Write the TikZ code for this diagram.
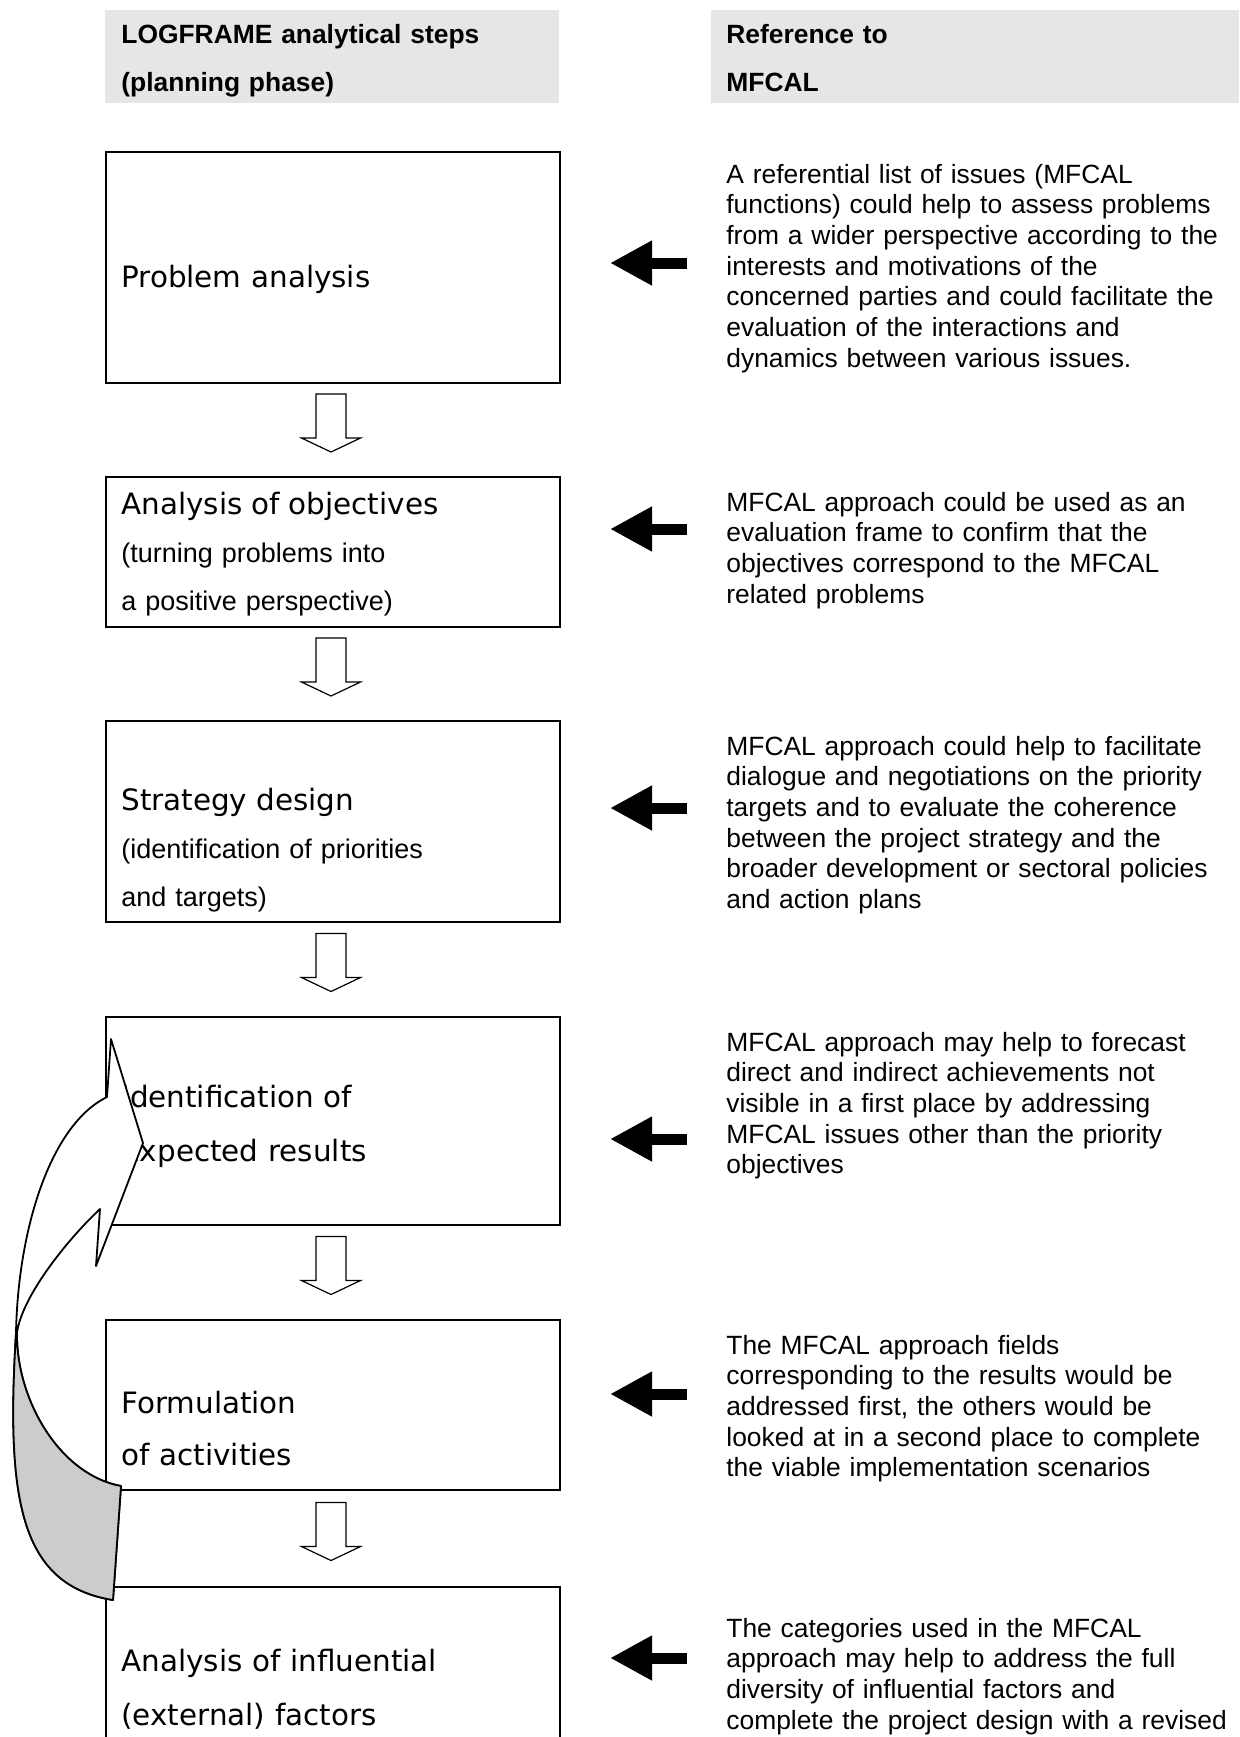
\documentclass[tikz,border=0pt]{standalone}
\usepackage{fontspec}
\newfontfamily\arialfont{Liberation Sans}
\newfontfamily\verdanafont{DejaVu Sans}
\usetikzlibrary{arrows.meta, calc}
\definecolor{headgrey}{RGB}{230,230,230}
\definecolor{loopgrey}{RGB}{204,204,204}
\newcommand{\titlefnt}[1]{\verdanafont\fontsize{14.7}{#1}\selectfont}
\newcommand{\plainfnt}[1]{\arialfont\fontsize{13.5}{#1}\selectfont}
\tikzset{
	stepbox/.style={draw, line width=1pt, minimum width=227pt, anchor=north west, inner sep=0pt, outer sep=0pt},
	headbox/.style={fill=headgrey, minimum height=46.5pt, anchor=north west, inner sep=0pt, outer sep=0pt},
	headtext/.style={anchor=base west, inner sep=0pt, text width=220pt, align=left, font=\arialfont\bfseries\fontsize{13.2}{24}\selectfont},
	steptext/.style={anchor=base west, inner sep=0pt, text width=215pt, align=left},
	notetext/.style={anchor=base west, inner sep=0pt, text width=280pt, align=left, font=\arialfont\fontsize{13.2}{15.35}\selectfont},
	fatarrow/.style={line width=5.5pt, -{Triangle[length=21pt, width=21pt]}, shorten >=25pt},
	downarrow/.pic={\draw[line width=0.6pt, fill=white] (-15,0) -- (15,0) -- (15,44) -- (29.5,44) -- (0,58) -- (-29.5,44) -- (-15,44) -- cycle;}
}

\begin{document}
\begin{tikzpicture}[x=0.5pt, y=-0.5pt]
	\clip (0,0) rectangle (1239,1737);
	
	% column heads
	\node[headbox, minimum width=227pt] (hleft) at (105,10) {};
	\node[headbox, minimum width=264pt] (hright) at (711,10) {};
	\node[headtext] (hleftt) at (121,43) {LOGFRAME analytical steps\\(planning phase)};
	\node[headtext] (hrightt) at (726,43) {Reference to\\MFCAL};
	
	% logframe steps
	\node[stepbox, minimum height=115.5pt] (b1) at (106,152) {};
	\node[stepbox, minimum height=75pt] (b2) at (106,477) {};
	\node[stepbox, minimum height=100.5pt] (b3) at (106,721) {};
	\node[stepbox, minimum height=104pt] (b4) at (106,1017) {};
	\node[stepbox, minimum height=85pt] (b5) at (106,1320) {};
	\node[stepbox, minimum height=110pt] (b6) at (106,1587) {};
	
	\node[steptext, font={\titlefnt{24}}] (s1) at (121,287) {Problem analysis};
	\node[steptext, font={\plainfnt{24}}] (s2) at (121,514) {\titlefnt{24}Analysis of objectives\\\plainfnt{24}(turning problems into\\a positive perspective)};
	\node[steptext, font={\plainfnt{24}}] (s3) at (121,810) {\titlefnt{24}Strategy design\\\plainfnt{24}(identification of priorities\\and targets)};
	\node[steptext, font={\titlefnt{27.2}}] (s4) at (121,1107) {Identification of\\Expected results};
	\node[steptext, font={\titlefnt{26}}] (s5) at (121,1413) {Formulation\\of activities};
	\node[steptext, font={\titlefnt{27}}] (s6) at (121,1671) {Analysis of influential\\(external) factors};
	
	% MFCAL notes
	\node[notetext] (n1) at (726,183) {A referential list of issues (MFCAL\\functions) could help to assess problems\\from a wider perspective according to the\\interests and motivations of the\\concerned parties and could facilitate the\\evaluation of the interactions and\\dynamics between various issues.};
	\node[notetext] (n2) at (726,511) {MFCAL approach could be used as an\\evaluation frame to confirm that the\\objectives correspond to the MFCAL\\related problems};
	\node[notetext] (n3) at (726,755) {MFCAL approach could help to facilitate\\dialogue and negotiations on the priority\\targets and to evaluate the coherence\\between the project strategy and the\\broader development or sectoral policies\\and action plans};
	\node[notetext] (n4) at (726,1051) {MFCAL approach may help to forecast\\direct and indirect achievements not\\visible in a first place by addressing\\MFCAL issues other than the priority\\objectives};
	\node[notetext] (n5) at (726,1354) {The MFCAL approach fields\\corresponding to the results would be\\addressed first, the others would be\\looked at in a second place to complete\\the viable implementation scenarios};
	\node[notetext] (n6) at (726,1637) {The categories used in the MFCAL\\approach may help to address the full\\diversity of influential factors and\\complete the project design with a revised};
	
	% arrows
	\foreach \i/\y in {1/263, 2/529, 3/808, 4/1139, 5/1394, 6/1658} {
		\coordinate (m\i) at (687,\y);
		\draw[fatarrow] (m\i) -- (b\i.east |- m\i);
	}
	\foreach \a/\b in {b1/b2, b2/b3, b3/b4, b4/b5, b5/b6}
		\pic at ($(\a.south)!0.5!(\b.north)+(-2,-36)$) {downarrow};
	
	% feedback loop
	\filldraw[fill=white, line width=0.9pt, line join=round]
		(107,1097) -- (111,1039) -- (143,1143) -- (96,1266) -- (100,1209)
		.. controls (70,1237) and (22,1295) .. (17,1333)
		.. controls (16,1400) and (60,1475) .. (121,1486) -- (113,1600)
		.. controls (20,1585) and (6,1500) .. (16,1333)
		.. controls (18,1230) and (50,1125) .. (107,1097) -- cycle;
	\filldraw[fill=loopgrey, line width=0.9pt, line join=round]
		(17,1333) .. controls (16,1400) and (60,1475) .. (121,1486) -- (113,1600)
		.. controls (20,1585) and (6,1500) .. (16,1333) -- cycle;
\end{tikzpicture}
\end{document}
